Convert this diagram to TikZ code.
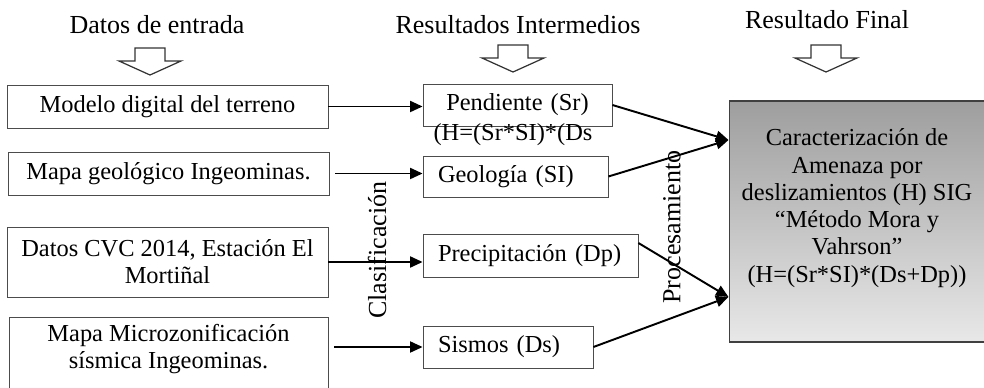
\documentclass[tikz,border=0pt]{standalone}
\usepackage{fontspec}
\setmainfont{Liberation Serif}
\usetikzlibrary{arrows.meta}

\begin{document}
\begin{tikzpicture}[x=0.02cm, y=-0.02cm,
  every node/.style={font=\fontsize{13.9}{15.5}\selectfont},
  titulo/.style={font=\fontsize{14.8}{16}\selectfont},
  inbox/.style={draw=black!70, line width=0.5pt, align=center, inner sep=0pt},
  midbox/.style={draw=black!70, line width=0.5pt, align=left, inner xsep=0.3cm, inner ysep=0pt},
  finbox/.style={draw=black!75, line width=0.6pt, align=center, inner sep=0pt, top color=black!38, bottom color=black!9},
  flecha/.style={line width=1.1pt, -{Triangle[length=0.25cm,width=0.22cm]}},
  hueca/.style={draw=black!80, line width=0.7pt, line join=miter}]

\useasboundingbox (0,0) rectangle (984,388);
\clip (0,0) rectangle (984,388);

\node[titulo] (datos) at (157,25) {Datos de entrada};
\node[titulo] (inter) at (518,25) {Resultados Intermedios};
\node[titulo] (final) at (827,20) {Resultado Final};

\foreach \x/\y in {150/48, 513/45, 826/45}
  \draw[hueca] (\x-15,\y) -- (\x+15,\y) -- (\x+15,\y+13) -- (\x+31,\y+13) -- (\x,\y+27) -- (\x-31,\y+13) -- (\x-15,\y+13) -- cycle;

\node[inbox, minimum width=6.42cm, minimum height=0.86cm] (mdt) at (167.5,106.5) {Modelo digital del terreno};
\node[inbox, minimum width=6.42cm, minimum height=0.86cm] (geol) at (168.5,173.5) {Mapa geológico Ingeominas.};
\node[inbox, minimum width=6.42cm, minimum height=1.4cm] (cvc) at (167.5,262) {Datos CVC 2014, Estación El\\Mortiñal};
\node[inbox, minimum width=6.38cm, minimum height=1.48cm, text depth=0.3cm] (micro) at (168.5,354) {Mapa Microzonificación\\sísmica Ingeominas.};

\node[midbox, align=center, text width=3.18cm, minimum height=0.84cm] (pend) at (517.5,105) {Pendiente (Sr)};
\node (nota) at (513,135) {(H=(Sr*SI)*(Ds};
\node[midbox, text width=3.1cm, minimum height=0.82cm] (geo) at (515.5,176.5) {Geología (SI)};
\node[midbox, text width=3.7cm, minimum height=0.86cm] (prec) at (530.5,255.5) {Precipitación (Dp)};
\node[midbox, text width=2.8cm, minimum height=0.84cm] (sis) at (508,347) {Sismos (Ds)};

\node[finbox, minimum width=5.12cm, minimum height=4.82cm, text depth=0.64cm] (fin) at (857,221.5) {Caracterización de\\Amenaza por\\deslizamientos (H) SIG\\“Método Mora y\\Vahrson”\\(H=(Sr*SI)*(Ds+Dp))};

\node[titulo, rotate=90] (clas) at (377,250) {Clasificación};
\node[titulo, rotate=90] (proc) at (672,227) {Procesamiento};

\coordinate (fa) at (fin.west |- 0,140);
\coordinate (fb) at (fin.west |- 0,297);

\draw[flecha] (mdt.east) -- (mdt.east -| pend.west);
\draw[flecha, shorten <=0.12cm] (geol.east) -- (geol.east -| geo.west);
\draw[flecha] (cvc.east) -- (cvc.east -| prec.west);
\draw[flecha, shorten <=0.12cm] (sis.west -| micro.east) -- (sis.west);

\draw[flecha] (pend.east) -- (fa);
\draw[flecha] (geo.east) -- (fa);
\draw[flecha] ([yshift=0.25cm]prec.east) -- (fb);
\draw[flecha] (sis.east) -- (fb);

\end{tikzpicture}
\end{document}
